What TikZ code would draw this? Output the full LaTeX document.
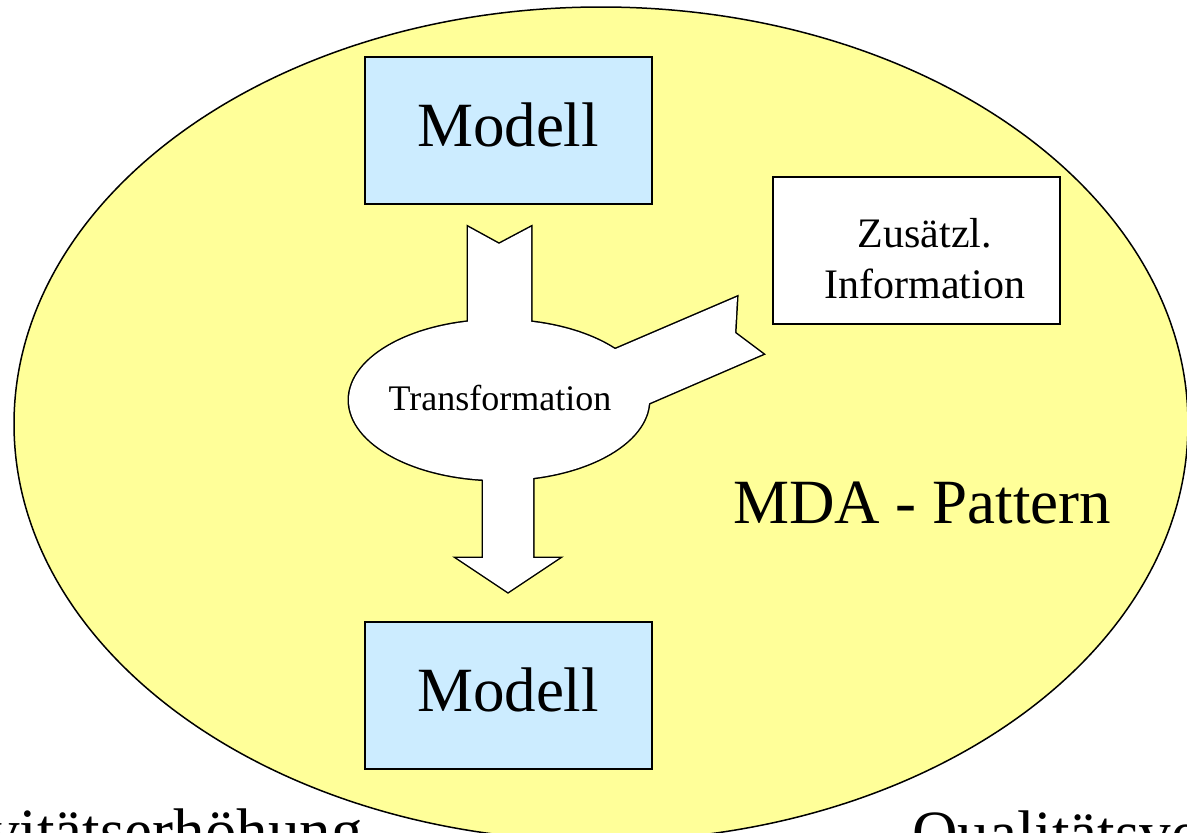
\documentclass[tikz,border=0pt]{standalone}
\usepackage{fontspec}
\setmainfont{Liberation Serif}
\usetikzlibrary{shapes.geometric}
\definecolor{padyellow}{HTML}{FFFF99}
\definecolor{modelblue}{HTML}{CCECFF}
\tikzset{
  modelbox/.style={draw=black, line width=1.5pt, fill=modelblue, minimum width=287pt, minimum height=147pt, inner sep=0pt},
  infobox/.style={draw=black, line width=1.5pt, fill=white, minimum width=287pt, minimum height=147pt, inner sep=0pt},
  bigtext/.style={font=\fontsize{63}{63}\selectfont, inner sep=0pt},
  infotext/.style={font=\fontsize{42}{51}\selectfont, inner sep=0pt, align=center},
  transtext/.style={font=\fontsize{36}{36}\selectfont, inner sep=0pt},
  outline/.style={draw=black, line width=3pt},
  blank/.style={fill=white}
}
\begin{document}
\begin{tikzpicture}[x=1pt, y=-1pt]
  \useasboundingbox (0,0) rectangle (1187,833);
  \clip (0,0) rectangle (1187,833);
  \fill[white] (0,0) rectangle (1187,833);

  % pattern area
  \draw[line width=1.5pt, fill=padyellow] (601,424) ellipse [x radius=587, y radius=417];

  % source and target models, extra information
  \node[modelbox] (src) at (508.5,130.5) {};
  \node[bigtext, anchor=base] (srclbl) at (508,146) {Modell};
  \node[modelbox] (dst) at (508.5,695.5) {};
  \node[bigtext, anchor=base] (dstlbl) at (508,711) {Modell};
  \node[infobox] (info) at (916.5,250.5) {};
  \node[infotext, anchor=base] (infolbl1) at (925,247) {Zusätzl.};
  \node[infotext, anchor=base] (infolbl2) at (925,298) {Information};

  % transformation blob with its three block arrows (outline of the union)
  \coordinate (tc) at (499,400);
  \coordinate (inA) at (468,227);
  \coordinate (inB) at (499,244);
  \coordinate (inC) at (531,227);
  \coordinate (sdA) at (737,297);
  \coordinate (sdB) at (735,333);
  \coordinate (sdC) at (763,354);
  \coordinate (outTip) at (508,592);
  \def\blobcore{(tc) ellipse [x radius=150, y radius=80]}
  \def\arrowin{(inA) -- (inB) -- (inC) -- (531,360) -- (468,360) -- cycle}
  \def\arrowside{(555,375) -- (sdA) -- (sdB) -- (sdC) -- (594,427) -- cycle}
  \def\arrowout{(483,440) -- (483,558) -- (457,558) -- (outTip) -- (559,558) -- (533,558) -- (533,440) -- cycle}
  % thick strokes first, then white fills on top leave only the outer edge
  \path[outline] \blobcore;
  \path[outline] \arrowin;
  \path[outline] \arrowside;
  \path[outline] \arrowout;
  \path[blank] \blobcore;
  \path[blank] \arrowin;
  \path[blank] \arrowside;
  \path[blank] \arrowout;
  \node[transtext, anchor=base] (trans) at (500,410) {Transformation};

  % labels
  \node[bigtext, anchor=base west] (mda) at (733,523) {MDA - Pattern};
  \node[bigtext, anchor=base east] (prod) at (363,852) {Produktivitätserhöhung};
  \node[bigtext, anchor=base west] (qual) at (912,854) {Qualitätsverbesserung};
\end{tikzpicture}
\end{document}
